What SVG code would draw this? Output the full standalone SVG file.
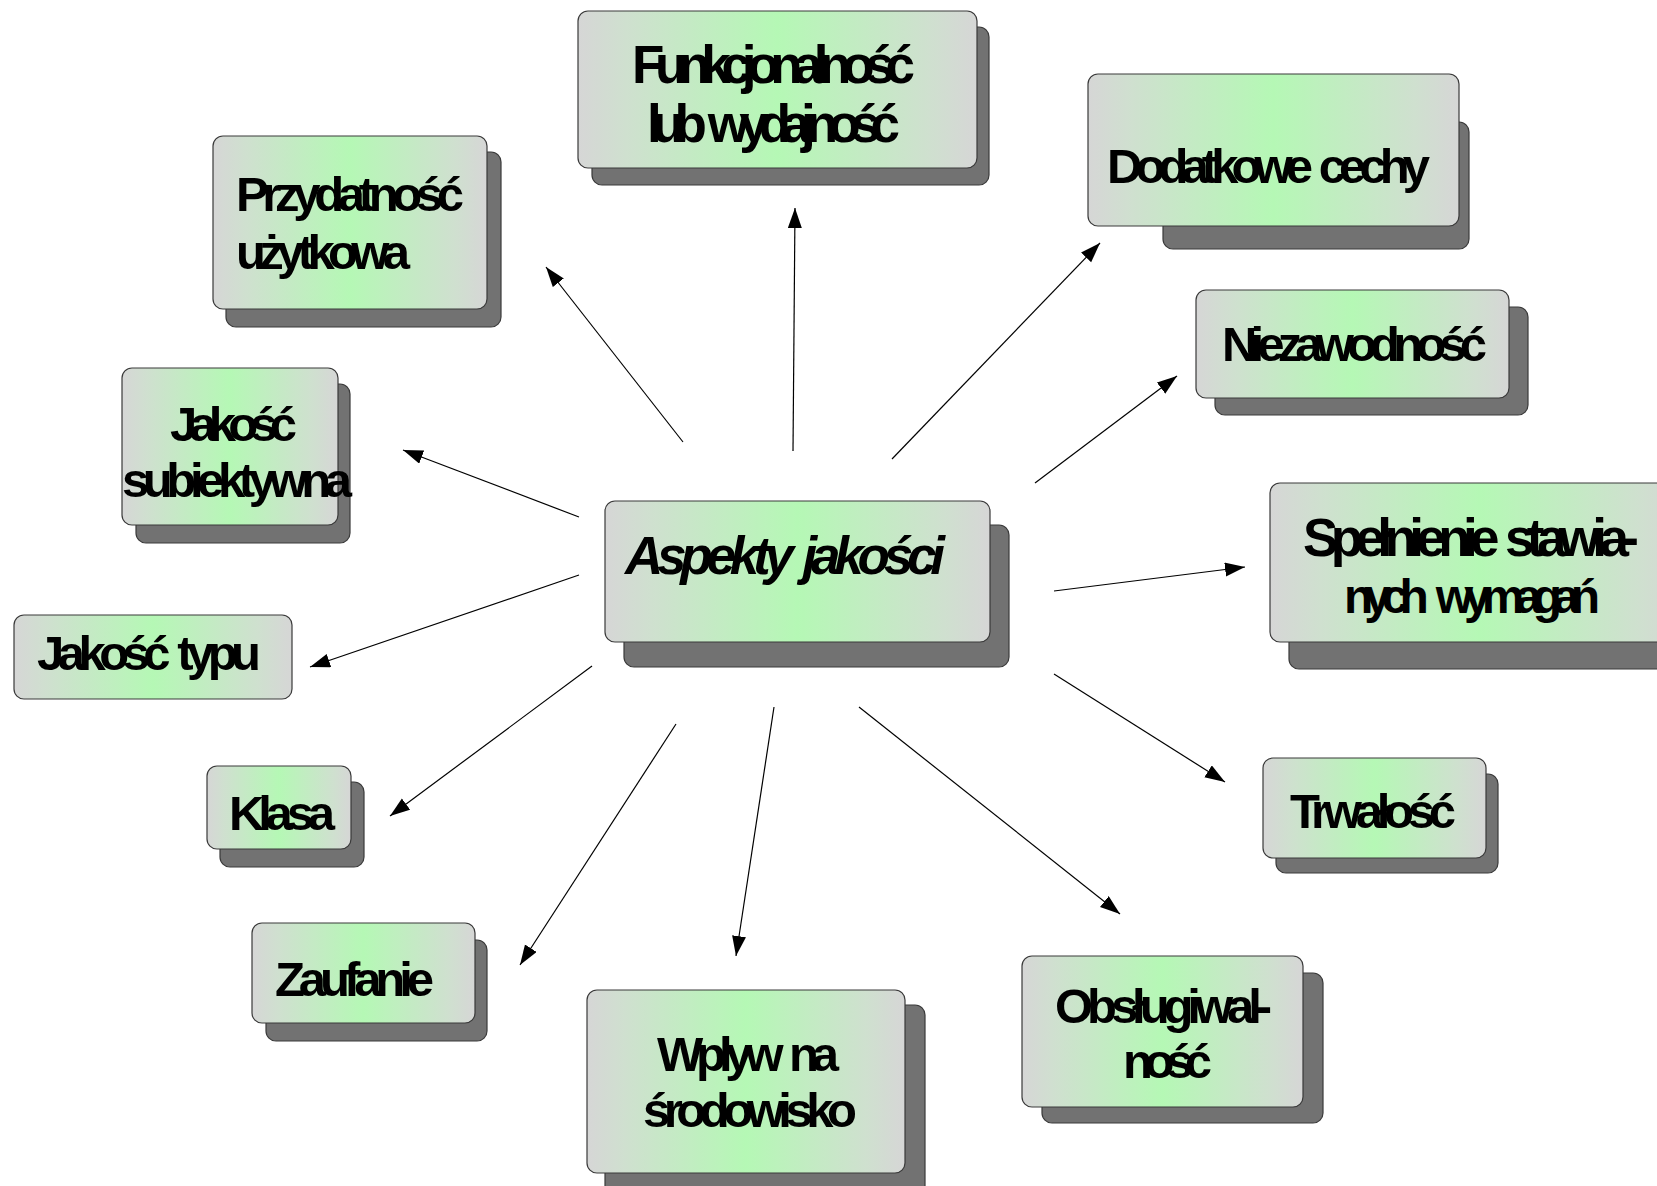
<svg xmlns="http://www.w3.org/2000/svg" width="1657" height="1186" viewBox="0 0 1657 1186">
  <style>
    .shadow { fill: #727272; stroke: #3a3a3a; stroke-width: 1.2; }
    .box { fill: url(#boxFill); stroke: #3a3a3a; stroke-width: 1.2; }
    .label { font-family: "Liberation Sans", Arial, sans-serif; font-weight: bold; fill: #000; word-spacing: 6px; }
    .big { font-size: 53px; }
    .mid { font-size: 49px; }
    .conn line { stroke: #000; stroke-width: 1.2; marker-end: url(#arrow); }
  </style>
  <defs>
    <linearGradient id="boxFill" x1="0" y1="0" x2="1" y2="0">
      <stop offset="0" stop-color="#d6d6d6"/>
      <stop offset="0.12" stop-color="#cfe0cf"/>
      <stop offset="0.5" stop-color="#b5f8b5"/>
      <stop offset="0.88" stop-color="#cfe0cf"/>
      <stop offset="1" stop-color="#d6d6d6"/>
    </linearGradient>
    <marker id="arrow" markerUnits="userSpaceOnUse" markerWidth="22" markerHeight="16" refX="20" refY="7" orient="auto">
      <path d="M0,0 L20,7 L0,14 z" fill="#000"/>
    </marker>
  </defs>

  <!-- connectors from the central box outward -->
  <g id="connectors" class="conn">
    <line x1="793" y1="451" x2="795" y2="208"/>
    <line x1="892" y1="459" x2="1100" y2="243"/>
    <line x1="1035" y1="483" x2="1177" y2="376"/>
    <line x1="1054" y1="591" x2="1245" y2="567"/>
    <line x1="1054" y1="674" x2="1225" y2="782"/>
    <line x1="859" y1="707" x2="1120" y2="914"/>
    <line x1="774" y1="707" x2="736" y2="956"/>
    <line x1="676" y1="724" x2="520" y2="965"/>
    <line x1="592" y1="666" x2="390" y2="816"/>
    <line x1="579" y1="575" x2="310" y2="667"/>
    <line x1="579" y1="517" x2="403" y2="450"/>
    <line x1="683" y1="442" x2="546" y2="267"/>
  </g>

  <g id="funkcjonalnosc">
    <rect class="shadow" x="592" y="27" width="397" height="158" rx="10"/>
    <rect class="box" x="578" y="11" width="399" height="157" rx="10"/>
    <text class="label big" x="632" y="83" textLength="283" lengthAdjust="spacing">Funkcjonalność</text>
    <text class="label big" x="647" y="142" textLength="253" lengthAdjust="spacing">lub wydajność</text>
  </g>

  <g id="przydatnosc">
    <rect class="shadow" x="226" y="152" width="275" height="175" rx="10"/>
    <rect class="box" x="213" y="136" width="274" height="173" rx="10"/>
    <text class="label mid" x="236" y="211" textLength="228" lengthAdjust="spacing">Przydatność</text>
    <text class="label mid" x="236" y="269" textLength="174" lengthAdjust="spacing">użytkowa</text>
  </g>

  <g id="dodatkowe-cechy">
    <rect class="shadow" x="1163" y="122" width="306" height="127" rx="10"/>
    <rect class="box" x="1088" y="74" width="371" height="152" rx="10"/>
    <text class="label mid" x="1107" y="183" textLength="323" lengthAdjust="spacing">Dodatkowe cechy</text>
  </g>

  <g id="niezawodnosc">
    <rect class="shadow" x="1215" y="307" width="313" height="108" rx="10"/>
    <rect class="box" x="1196" y="290" width="313" height="108" rx="10"/>
    <text class="label mid" x="1222" y="361" textLength="265" lengthAdjust="spacing">Niezawodność</text>
  </g>

  <g id="jakosc-subiektywna">
    <rect class="shadow" x="136" y="384" width="214" height="159" rx="10"/>
    <rect class="box" x="122" y="368" width="216" height="157" rx="10"/>
    <text class="label mid" x="170" y="441" textLength="127" lengthAdjust="spacing">Jakość</text>
    <text class="label mid" x="122" y="497" textLength="230" lengthAdjust="spacing">subiektywna</text>
  </g>

  <g id="aspekty-jakosci">
    <rect class="shadow" x="624" y="525" width="385" height="142" rx="10"/>
    <rect class="box" x="605" y="501" width="385" height="141" rx="10"/>
    <text class="label big" x="625" y="574" font-style="italic" textLength="320" lengthAdjust="spacing">Aspekty jakości</text>
  </g>

  <g id="spelnienie-wymagan">
    <rect class="shadow" x="1289" y="500" width="420" height="169" rx="10"/>
    <rect class="box" x="1270" y="483" width="420" height="159" rx="10"/>
    <text class="label big" x="1303" y="556" textLength="336" lengthAdjust="spacing">Spełnienie stawia-</text>
    <text class="label" style="font-size:48px; word-spacing:12px" x="1344" y="613" textLength="256" lengthAdjust="spacing">nych wymagań</text>
  </g>

  <g id="jakosc-typu">
    <rect class="box" x="14" y="615" width="278" height="84" rx="10"/>
    <text class="label mid" x="37" y="670" textLength="224" lengthAdjust="spacing">Jakość typu</text>
  </g>

  <g id="klasa">
    <rect class="shadow" x="220" y="782" width="144" height="85" rx="10"/>
    <rect class="box" x="207" y="766" width="144" height="83" rx="10"/>
    <text class="label mid" x="229" y="830" textLength="106" lengthAdjust="spacing">Klasa</text>
  </g>

  <g id="trwalosc">
    <rect class="shadow" x="1276" y="774" width="222" height="99" rx="10"/>
    <rect class="box" x="1263" y="758" width="223" height="100" rx="10"/>
    <text class="label mid" x="1290" y="828" textLength="166" lengthAdjust="spacing">Trwałość</text>
  </g>

  <g id="zaufanie">
    <rect class="shadow" x="266" y="940" width="221" height="101" rx="10"/>
    <rect class="box" x="252" y="923" width="223" height="100" rx="10"/>
    <text class="label mid" x="275" y="996" textLength="159" lengthAdjust="spacing">Zaufanie</text>
  </g>

  <g id="obslugiwalnosc">
    <rect class="shadow" x="1042" y="973" width="281" height="150" rx="10"/>
    <rect class="box" x="1022" y="956" width="281" height="151" rx="10"/>
    <text class="label mid" x="1055" y="1023" textLength="217" lengthAdjust="spacing">Obsługiwal-</text>
    <text class="label mid" x="1123" y="1078" textLength="89" lengthAdjust="spacing">ność</text>
  </g>

  <g id="wplyw-na-srodowisko">
    <rect class="shadow" x="605" y="1005" width="320" height="195" rx="10"/>
    <rect class="box" x="587" y="990" width="318" height="183" rx="10"/>
    <text class="label mid" x="657" y="1071" textLength="182" lengthAdjust="spacing">Wpływ na</text>
    <text class="label mid" x="643" y="1127" textLength="214" lengthAdjust="spacing">środowisko</text>
  </g>
</svg>
